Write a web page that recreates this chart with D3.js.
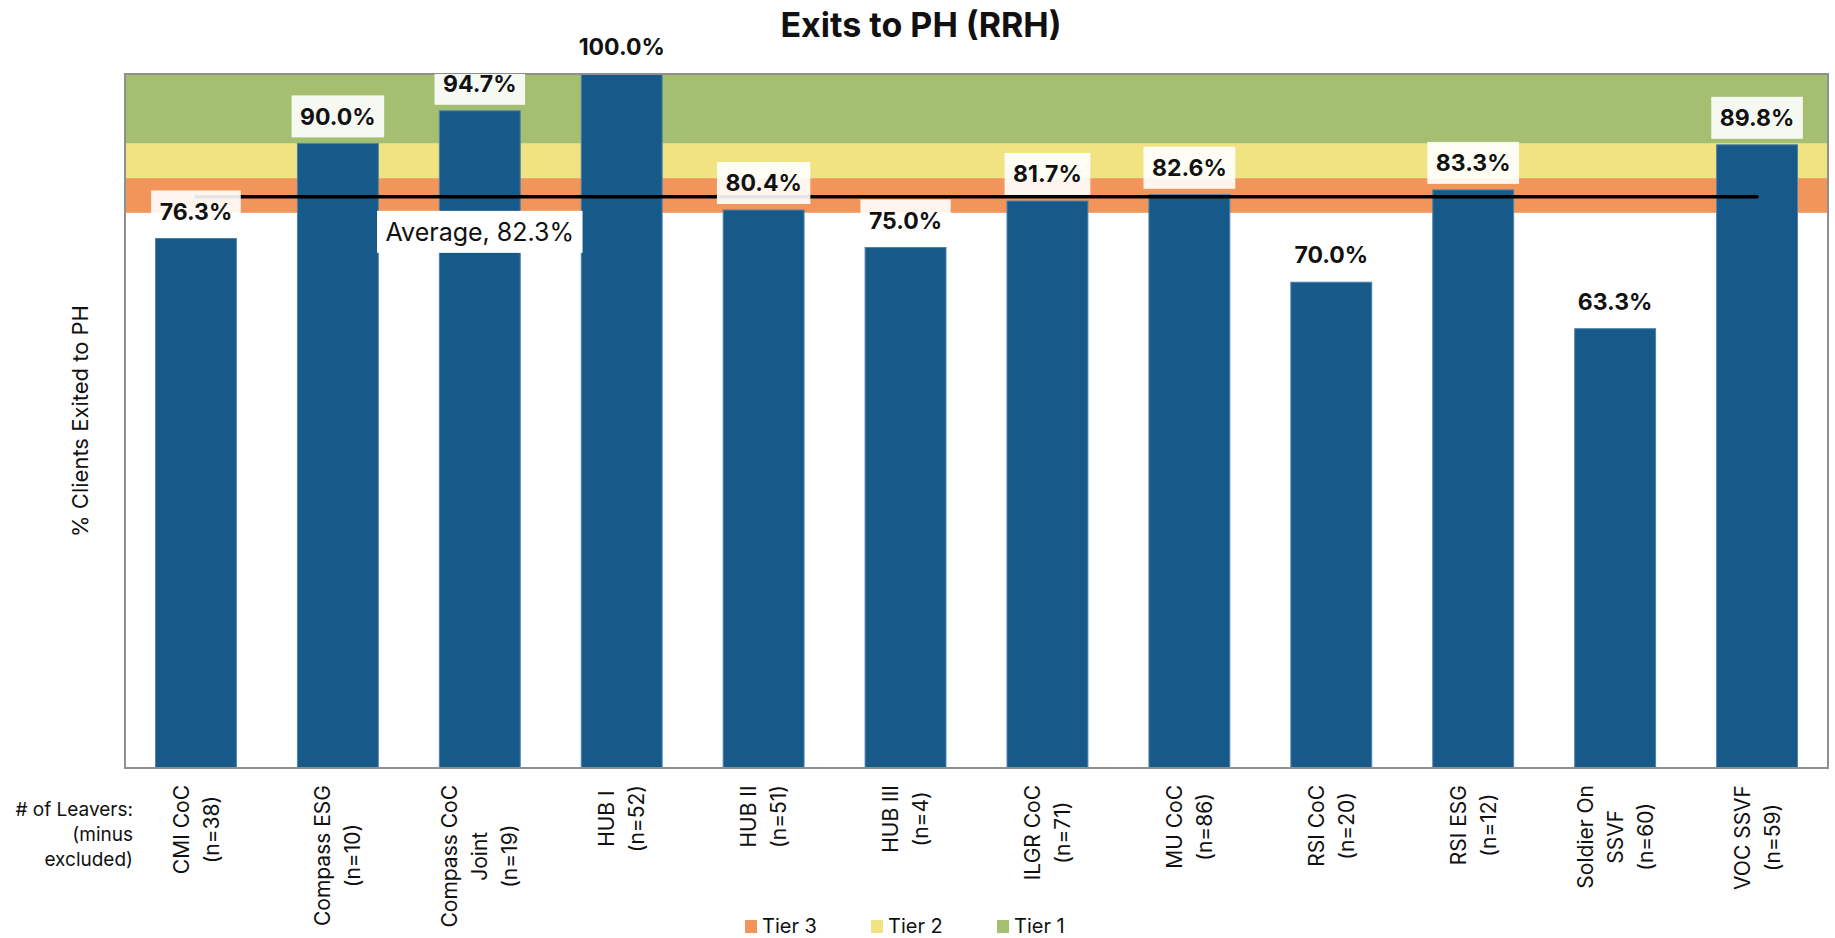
<!DOCTYPE html>
<html>
<head>
<meta charset="utf-8">
<script src="https://cdn.jsdelivr.net/npm/d3@7"></script>
<style>
  body { margin: 0; background: #fff; }
  svg { display: block; font-family: Inter, "Noto Sans", sans-serif; }
</style>
</head>
<body>
<div id="chart"></div>
<script>
// chart data
const categories = ["CMI CoC", "Compass ESG", "Compass CoC Joint", "HUB I", "HUB II", "HUB III",
    "ILGR CoC", "MU CoC", "RSI CoC", "RSI ESG", "Soldier On SSVF", "VOC SSVF"];
const leavers = [38, 10, 19, 52, 51, 4, 71, 86, 20, 12, 60, 59];
const exitRates = [0.763, 0.900, 0.947, 1.000, 0.804, 0.750, 0.817, 0.826, 0.700, 0.833, 0.633, 0.898];
const averageRate = 0.823;
const tierNames = ["Tier 3", "Tier 2", "Tier 1"];
const tierLower = [0.80, 0.85, 0.90];
const tierUpper = [0.85, 0.90, 1.00];

const width = 1835;
const height = 938;
const plot = { left: 125, right: 1828, top: 74, bottom: 768 };

const tierColor = d3.scaleOrdinal()
    .domain(tierNames)
    .range(["#f2955b", "#f1e381", "#a3bf6f"]);
const barColor = "#175a89";

const svg = d3.select("#chart").append("svg")
    .attr("width", width)
    .attr("height", height);

const x = d3.scaleBand()
    .domain(categories)
    .range([plot.left, plot.right])
    .paddingInner(0.43)
    .paddingOuter(0.215);

const y = d3.scaleLinear()
    .domain([0, 1])
    .range([plot.bottom, plot.top]);

// clip for label boxes (they get cut at the plot edge)
svg.append("clipPath").attr("id", "plot-clip")
    .append("rect")
    .attr("x", plot.left).attr("y", plot.top)
    .attr("width", plot.right - plot.left)
    .attr("height", plot.bottom - plot.top);

// Title
svg.append("text")
    .attr("x", 921)
    .attr("y", 37)
    .attr("text-anchor", "middle")
    .attr("font-size", "34px")
    .attr("font-weight", 700)
    .attr("fill", "#111")
    .text("Exits to PH (RRH)");

// tier bands
svg.append("g").selectAll("rect")
    .data(tierNames)
    .join("rect")
    .attr("x", plot.left)
    .attr("width", plot.right - plot.left)
    .attr("y", (d, i) => y(tierUpper[i]))
    .attr("height", (d, i) => y(tierLower[i]) - y(tierUpper[i]))
    .attr("fill", d => tierColor(d));

// bars
svg.append("g").selectAll("rect")
    .data(exitRates)
    .join("rect")
    .attr("x", (d, i) => x(categories[i]))
    .attr("width", x.bandwidth())
    .attr("y", d => y(d))
    .attr("height", d => y(0) - y(d))
    .attr("fill", barColor)
    .attr("stroke", "#4d82ab")
    .attr("stroke-width", 1);

// average line, from first to last category centre
const cx = c => x(c) + x.bandwidth() / 2;
svg.append("line")
    .attr("x1", cx(categories[0]))
    .attr("x2", cx(categories[categories.length - 1]))
    .attr("y1", y(averageRate))
    .attr("y2", y(averageRate))
    .attr("stroke", "#000")
    .attr("stroke-width", 3.5)
    .attr("stroke-linecap", "round");

// plot frame
svg.append("rect")
    .attr("x", plot.left).attr("y", plot.top)
    .attr("width", plot.right - plot.left)
    .attr("height", plot.bottom - plot.top)
    .attr("fill", "none")
    .attr("stroke", "#8f8f8f")
    .attr("stroke-width", 2);

// data labels
const fmt = d3.format(".1%");
const labels = svg.append("g").selectAll("g")
    .data(exitRates)
    .join("g")
    .attr("transform", (d, i) => `translate(${cx(categories[i])},${y(d) - 27})`);

labels.append("rect")
    .attr("fill", "#fff")
    .attr("fill-opacity", 0.9);

labels.append("text")
    .attr("text-anchor", "middle")
    .attr("dy", "0.36em")
    .attr("font-size", "23px")
    .attr("font-weight", 700)
    .attr("fill", "#111")
    .text(d => fmt(d));

labels.each(function () {
    const g = d3.select(this);
    const w = g.select("text").node().getComputedTextLength() + 17;
    g.select("rect")
        .attr("x", -w / 2).attr("y", -21)
        .attr("width", w).attr("height", 42);
});
// boxes are clipped by plot area, so move them to a clipped layer
const boxLayer = svg.insert("g", () => labels.node().parentNode).attr("clip-path", "url(#plot-clip)");
labels.each(function () {
    const g = d3.select(this);
    const r = g.select("rect").node();
    boxLayer.append("g").attr("transform", g.attr("transform")).node().appendChild(r);
});

// average label
const avgG = svg.append("g")
    .attr("transform", `translate(${cx(categories[2])},${y(averageRate) + 35})`);
const avgRect = avgG.append("rect").attr("fill", "#fff");
const avgText = avgG.append("text")
    .attr("text-anchor", "middle")
    .attr("dy", "0.36em")
    .attr("font-size", "25px")
    .attr("fill", "#111")
    .text(`Average, ${fmt(averageRate)}`);
const aw = avgText.node().getComputedTextLength() + 17;
avgRect.attr("x", -aw / 2).attr("y", -21).attr("width", aw).attr("height", 42);

// y axis title
svg.append("text")
    .attr("transform", `translate(80,${(plot.top + plot.bottom) / 2}) rotate(-90)`)
    .attr("text-anchor", "middle")
    .attr("dy", "0.36em")
    .attr("font-size", "22px")
    .attr("fill", "#111")
    .text("% Clients Exited to PH");

// category labels, rotated, wrapped
function wrapWords(text, maxLen, measure) {
    const words = text.split(" ");
    const lines = [];
    let cur = words[0];
    for (let i = 1; i < words.length; i++) {
        const test = cur + " " + words[i];
        if (measure(test) > maxLen) { lines.push(cur); cur = words[i]; }
        else cur = test;
    }
    lines.push(cur);
    return lines;
}

const labelSize = "21px";
const probe = svg.append("text").attr("font-size", labelSize);
const measure = s => { probe.text(s); return probe.node().getComputedTextLength(); };

categories.forEach((c, i) => {
    const lines = wrapWords(c, 152, measure).concat([`(n=${leavers[i]})`]);
    const maxLen = d3.max(lines, measure);
    const center = cx(c);
    const spacing = 30;
    const yMid = 785 + maxLen / 2;
    const g = svg.append("g");
    lines.forEach((ln, j) => {
        const lx = center + (j - (lines.length - 1) / 2) * spacing;
        g.append("text")
            .attr("transform", `translate(${lx},${yMid}) rotate(-90)`)
            .attr("text-anchor", "middle")
            .attr("dy", "0.36em")
            .attr("font-size", labelSize)
            .attr("fill", "#111")
            .text(ln);
    });
});
probe.remove();

// "# of Leavers" row header
const leaverHead = ["# of Leavers:", "(minus", "excluded)"];
svg.append("g").selectAll("text")
    .data(leaverHead)
    .join("text")
    .attr("x", 133)
    .attr("y", (d, i) => 816 + i * 25)
    .attr("text-anchor", "end")
    .attr("font-size", "19px")
    .attr("fill", "#111")
    .text(d => d);

// legend
const legend = svg.append("g").selectAll("g")
    .data(tierNames)
    .join("g")
    .attr("transform", (d, i) => `translate(${745 + i * 126},920)`);
legend.append("rect")
    .attr("width", 12).attr("height", 13)
    .attr("fill", d => tierColor(d));
legend.append("text")
    .attr("x", 17).attr("y", 13)
    .attr("font-size", "20px")
    .attr("fill", "#111")
    .text(d => d);
</script>
</body>
</html>
